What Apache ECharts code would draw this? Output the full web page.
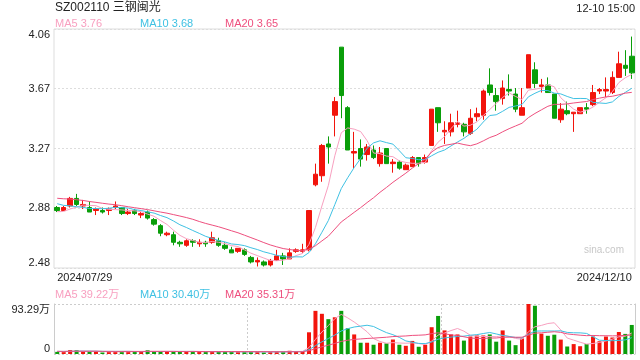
<!DOCTYPE html>
<html><head><meta charset="utf-8">
<script src="https://cdn.jsdelivr.net/npm/echarts@6/dist/echarts.min.js"></script>
<style>html,body{margin:0;padding:0;background:#fff}#c{width:640px;height:360px}</style>
</head><body><div id="c"></div>
<script>
const dates = [
'2024/07/29','2024/07/30','2024/07/31',
'2024/08/01','2024/08/02','2024/08/05','2024/08/06','2024/08/07','2024/08/08','2024/08/09','2024/08/12','2024/08/13','2024/08/14','2024/08/15','2024/08/16','2024/08/19','2024/08/20','2024/08/21','2024/08/22','2024/08/23','2024/08/26','2024/08/27','2024/08/28','2024/08/29','2024/08/30',
'2024/09/02','2024/09/03','2024/09/04','2024/09/05','2024/09/06','2024/09/09','2024/09/10','2024/09/11','2024/09/12','2024/09/13','2024/09/18','2024/09/19','2024/09/20','2024/09/23','2024/09/24','2024/09/25','2024/09/26','2024/09/27','2024/09/30',
'2024/10/08','2024/10/09','2024/10/10','2024/10/11','2024/10/14','2024/10/15','2024/10/16','2024/10/17','2024/10/18','2024/10/21','2024/10/22','2024/10/23','2024/10/24','2024/10/25','2024/10/28','2024/10/29','2024/10/30','2024/10/31',
'2024/11/01','2024/11/04','2024/11/05','2024/11/06','2024/11/07','2024/11/08','2024/11/11','2024/11/12','2024/11/13','2024/11/14','2024/11/15','2024/11/18','2024/11/19','2024/11/20','2024/11/21','2024/11/22','2024/11/25','2024/11/26','2024/11/27','2024/11/28','2024/11/29',
'2024/12/02','2024/12/03','2024/12/04','2024/12/05','2024/12/06','2024/12/09','2024/12/10'];

const opens = [2.88,2.86,2.89,2.94,2.89,2.88,2.86,2.86,2.86,2.88,
2.88,2.84,2.86,2.83,2.85,2.80,2.76,2.70,2.70,2.65,
2.63,2.66,2.64,2.65,2.65,2.66,2.63,2.60,2.59,2.60,
2.55,2.52,2.52,2.50,2.53,2.56,2.54,2.59,2.59,2.60,
3.03,3.09,3.30,3.49,3.94,3.54,3.24,3.27,3.23,3.26,
3.17,3.27,3.17,3.18,3.13,3.15,3.21,3.18,3.29,3.54,
3.38,3.38,3.43,3.43,3.37,3.48,3.49,3.69,3.62,3.60,
3.66,3.63,3.49,3.67,3.79,3.68,3.69,3.63,3.46,3.52,
3.50,3.50,3.54,3.56,3.65,3.65,3.64,3.74,3.82,3.88];
const closes = [2.86,2.88,2.94,2.90,2.90,2.85,2.87,2.85,2.87,2.89,
2.84,2.85,2.84,2.84,2.81,2.77,2.71,2.71,2.65,2.64,
2.66,2.65,2.65,2.64,2.68,2.63,2.61,2.58,2.61,2.57,
2.52,2.53,2.50,2.53,2.56,2.54,2.58,2.60,2.60,2.86,
3.10,3.29,3.28,3.58,3.62,3.26,3.25,3.20,3.28,3.21,
3.24,3.17,3.18,3.14,3.16,3.21,3.17,3.21,3.53,3.44,
3.39,3.44,3.44,3.38,3.47,3.50,3.65,3.64,3.58,3.67,
3.65,3.53,3.54,3.89,3.70,3.69,3.64,3.47,3.53,3.50,
3.51,3.54,3.53,3.64,3.66,3.66,3.74,3.83,3.80,3.77];
const lows = [2.85,2.86,2.88,2.89,2.87,2.85,2.83,2.84,2.83,2.87,
2.83,2.83,2.83,2.81,2.80,2.76,2.69,2.69,2.63,2.62,
2.62,2.62,2.62,2.62,2.64,2.62,2.60,2.58,2.58,2.56,
2.51,2.49,2.49,2.49,2.53,2.50,2.54,2.58,2.58,2.59,
3.02,3.05,3.17,3.35,3.47,3.26,3.14,3.15,3.19,3.20,
3.15,3.17,3.11,3.13,3.13,3.15,3.15,3.17,3.29,3.38,
3.30,3.35,3.41,3.35,3.36,3.45,3.46,3.62,3.52,3.56,
3.62,3.51,3.49,3.67,3.67,3.64,3.64,3.47,3.44,3.49,
3.38,3.50,3.50,3.55,3.63,3.61,3.63,3.74,3.75,3.73];
const highs = [2.89,2.89,2.95,2.97,2.93,2.92,2.88,2.88,2.88,2.92,
2.88,2.87,2.87,2.85,2.86,2.81,2.77,2.72,2.72,2.66,
2.67,2.67,2.67,2.66,2.72,2.68,2.65,2.62,2.61,2.61,
2.56,2.55,2.53,2.54,2.60,2.58,2.61,2.61,2.64,2.86,
3.17,3.30,3.35,3.61,3.94,3.55,3.38,3.33,3.30,3.29,
3.28,3.27,3.20,3.19,3.17,3.22,3.21,3.23,3.53,3.54,
3.45,3.50,3.52,3.44,3.53,3.54,3.66,3.80,3.67,3.72,
3.76,3.67,3.67,3.89,3.84,3.73,3.74,3.63,3.57,3.58,
3.51,3.54,3.57,3.69,3.67,3.74,3.78,3.91,3.92,4.01];
// volume, unit: 万
const volumes = [4.0,3.5,7.5,7.5,4.5,4.5,4.5,2.8,4.5,4.5,
4.5,4.5,4.5,4.5,7.0,4.5,4.5,4.5,4.5,4.5,
4.5,4.5,4.0,4.0,5.0,4.0,4.5,4.0,3.5,4.0,
4.5,4.0,3.0,4.0,5.0,4.0,6.0,4.5,4.5,40.5,
80.5,75,65,68.5,80.5,48,36.5,21,21,17.3,
21,19.8,27,17.3,15.3,24.4,13.5,17.3,50,71,
44,36.5,36.5,25,32.6,34.6,34.6,36.5,23,44,
25,16.5,29,93.29,90,38,34,36,26.9,14,
18.5,14.5,18.5,32.6,23.8,32.6,30.8,41,37.5,54.2];
// estimated sessions before 2024/07/29 (read from where the MA lines start)
const priorCloses = [2.95,2.97,2.99,3.00,2.99,2.98,2.97,2.98,2.97,2.97,2.99,2.97,2.96,2.94,2.93,2.87,2.86,2.84,2.83];
const priorVolumes = [5,5,5,5,5,5,5,5,5,5,5,5,5,5,5,5,5,5,5];

const priceTicks = [2.48, 2.875, 3.27, 3.665, 4.06];
const priceTickLabels = ['2.48','2.88','3.27','3.67','4.06'];
const volMax = 93.29;
const volTicks = [0, 93.29];
const volTickLabels = ['0','93.29万'];
const headText = 'SZ002110 三钢闽光';
const timeText = '12-10 15:00';
const priceMALabels = ['MA5 3.76','MA10 3.68','MA20 3.65'];
const volMALabels = ['MA5 39.22万','MA10 30.40万','MA20 35.31万'];

const UP = '#f2140c', DOWN = '#0a9e0a';
const MA_COLORS = ['#f8a0c0','#3fc1e3','#ee4f7e'];
const FONT = '"Liberation Sans", Arial, "Noto Sans CJK SC", sans-serif';

function ma(values, prior, n) {
  const all = prior.concat(values);
  return values.map((_, i) => {
    const end = prior.length + i;
    let s = 0;
    for (let k = end - n + 1; k <= end; k++) s += all[k];
    return +(s / n).toFixed(4);
  });
}

const kData = opens.map((o, i) => [o, closes[i], lows[i], highs[i]]);
const isUp = opens.map((o, i) => closes[i] >= o);

const chart = echarts.init(document.getElementById('c'), null, {renderer: 'canvas'});
const txt = (text, pos, color, size) => Object.assign({text, padding: 0,
  textStyle: {fontSize: size, fontWeight: 'normal', color, fontFamily: FONT}}, pos);

chart.setOption({
  animation: false,
  backgroundColor: '#fff',
  title: [
    txt(headText, {left: 55, top: 2}, '#222', 12),
    txt(timeText, {right: 5, top: 3}, '#222', 11),
    txt(priceMALabels[0], {left: 55, top: 18}, MA_COLORS[0], 11),
    txt(priceMALabels[1], {left: 140, top: 18}, MA_COLORS[1], 11),
    txt(priceMALabels[2], {left: 225, top: 18}, MA_COLORS[2], 11),
    txt(volMALabels[0], {left: 55, top: 289}, MA_COLORS[0], 11),
    txt(volMALabels[1], {left: 140, top: 289}, MA_COLORS[1], 11),
    txt(volMALabels[2], {left: 225, top: 289}, MA_COLORS[2], 11),
    txt('sina.com', {right: 16, top: 245}, '#c8c8c8', 10)
  ],
  grid: [
    {left: 54, right: 5, top: 29, height: 239, show: true, borderColor: '#ddd', borderWidth: 1},
    {left: 54, right: 5, top: 304, height: 50}
  ],
  xAxis: [
    {type: 'category', gridIndex: 0, data: dates, boundaryGap: true,
     axisLine: {show: false}, axisTick: {show: false}, splitLine: {show: false},
     axisLabel: {interval: (i) => i === 0 || i === dates.length - 1, color: '#222', fontSize: 11,
       fontFamily: FONT, margin: 4, alignMinLabel: 'left', alignMaxLabel: 'right'}},
    {type: 'category', gridIndex: 1, data: dates, boundaryGap: true,
     axisLine: {show: false}, axisTick: {show: false}, axisLabel: {show: false},
     splitLine: {show: true, interval: 29, lineStyle: {color: '#ccc', type: [2, 2]}}}
  ],
  yAxis: [
    {type: 'value', gridIndex: 0, min: priceTicks[0], max: priceTicks[priceTicks.length - 1], scale: true,
     axisLine: {show: false}, axisTick: {show: false, customValues: priceTicks},
     axisLabel: {customValues: priceTicks, color: '#222', fontSize: 11, fontFamily: FONT, margin: 4,
       verticalAlignMinLabel: 'bottom', verticalAlignMaxLabel: 'top',
       formatter: (v) => { const i = priceTicks.findIndex(t => Math.abs(t - v) < 1e-6); return i >= 0 ? priceTickLabels[i] : ''; }},
     splitLine: {show: true, lineStyle: {color: '#ddd', type: [2, 2]}}},
    {type: 'value', gridIndex: 1, min: 0, max: volMax,
     axisLine: {show: true, lineStyle: {color: '#ccc'}}, axisTick: {show: false, customValues: volTicks},
     axisLabel: {customValues: volTicks, color: '#222', fontSize: 11, fontFamily: FONT, margin: 4,
       verticalAlignMinLabel: 'bottom', verticalAlignMaxLabel: 'top',
       formatter: (v) => { const i = volTicks.findIndex(t => Math.abs(t - v) < 1e-6); return i >= 0 ? volTickLabels[i] : ''; }},
     splitLine: {show: true, lineStyle: {color: '#ccc', type: [2, 2]}}},
    {type: 'value', gridIndex: 1, min: 0, max: volMax, position: 'right',
     axisLine: {show: true, lineStyle: {color: '#ccc'}}, axisTick: {show: false},
     axisLabel: {show: false}, splitLine: {show: false}}
  ],
  series: [
    {type: 'candlestick', xAxisIndex: 0, yAxisIndex: 0, data: kData, barWidth: 5,
     itemStyle: {color: UP, color0: DOWN, borderColor: UP, borderColor0: DOWN, borderWidth: 1}},
    {type: 'line', xAxisIndex: 0, yAxisIndex: 0, data: ma(closes, priorCloses, 5), symbol: 'none',
     lineStyle: {color: MA_COLORS[0], width: 1}},
    {type: 'line', xAxisIndex: 0, yAxisIndex: 0, data: ma(closes, priorCloses, 10), symbol: 'none',
     lineStyle: {color: MA_COLORS[1], width: 1}},
    {type: 'line', xAxisIndex: 0, yAxisIndex: 0, data: ma(closes, priorCloses, 20), symbol: 'none',
     lineStyle: {color: MA_COLORS[2], width: 1}},
    {type: 'bar', xAxisIndex: 1, yAxisIndex: 1, barWidth: 4,
     data: volumes.map((v, i) => ({value: v, itemStyle: {color: isUp[i] ? UP : DOWN}}))},
    {type: 'line', xAxisIndex: 1, yAxisIndex: 1, data: ma(volumes, priorVolumes, 5), symbol: 'none',
     lineStyle: {color: MA_COLORS[0], width: 1}},
    {type: 'line', xAxisIndex: 1, yAxisIndex: 1, data: ma(volumes, priorVolumes, 10), symbol: 'none',
     lineStyle: {color: MA_COLORS[1], width: 1}},
    {type: 'line', xAxisIndex: 1, yAxisIndex: 1, data: ma(volumes, priorVolumes, 20), symbol: 'none',
     lineStyle: {color: MA_COLORS[2], width: 1}}
  ]
});
</script>
</body></html>
